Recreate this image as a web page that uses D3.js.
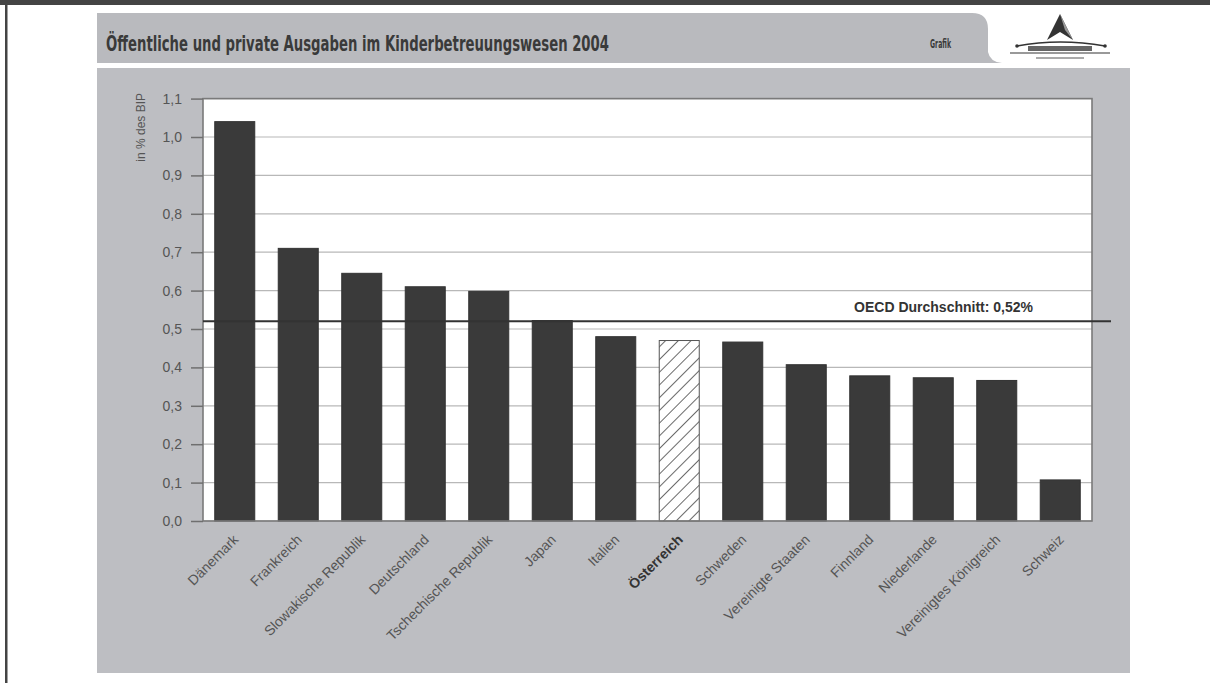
<!DOCTYPE html>
<html><head><meta charset="utf-8">
<script src="https://cdn.jsdelivr.net/npm/d3@7"></script>
<style>html,body{margin:0;padding:0;background:#fff;}svg{display:block;}</style>
</head><body>
<script>
const categories = ["Dänemark","Frankreich","Slowakische Republik","Deutschland","Tschechische Republik","Japan","Italien","Österreich","Schweden","Vereinigte Staaten","Finnland","Niederlande","Vereinigtes Königreich","Schweiz"];
const values = [1.04,0.71,0.645,0.61,0.598,0.522,0.48,0.47,0.466,0.407,0.378,0.373,0.366,0.107];
const highlight = ["Österreich"];
const yTicks = [0,0.1,0.2,0.3,0.4,0.5,0.6,0.7,0.8,0.9,1.0,1.1];
const oecdAverage = 0.52;
const oecdLabel = "OECD Durchschnitt: 0,52%";
const title = "Öffentliche und private Ausgaben im Kinderbetreuungswesen 2004";
const tabLabel = "Grafik";
const yTitle = "in % des BIP";

const W = 1210, H = 683;
const svg = d3.select("body").append("svg").attr("width", W).attr("height", H);

// outer frame
svg.append("rect").attr("x",0).attr("y",0).attr("width",W).attr("height",H).attr("fill","#fff");
svg.append("rect").attr("x",0).attr("y",0).attr("width",W).attr("height",5).attr("fill","#444");
svg.append("rect").attr("x",5).attr("y",0).attr("width",2.5).attr("height",H).attr("fill","#444");

// title tab
svg.append("path")
  .attr("d","M97,13 H972 Q988,13 988,29 V52 Q990,62 1002,63 H97 Z")
  .attr("fill","#b9babe");
svg.append("text").attr("x",106).attr("y",51)
  .attr("font-family","'DejaVu Sans Condensed','Liberation Sans Narrow',sans-serif")
  .attr("font-weight","bold").attr("font-size",21).attr("fill","#3a3a3a")
  .attr("textLength",503).attr("lengthAdjust","spacingAndGlyphs")
  .text(title);
svg.append("text").attr("x",930).attr("y",48)
  .attr("font-family","'DejaVu Sans Condensed',sans-serif")
  .attr("font-weight","bold").attr("font-size",12).attr("fill","#3a3a3a")
  .attr("textLength",21).attr("lengthAdjust","spacingAndGlyphs")
  .text(tabLabel);

// logo
const logo = svg.append("g");
logo.append("path").attr("d","M1060,14 L1047,40 L1060,32 L1073,40 Z").attr("fill","#333");
logo.append("path").attr("d","M1060,14 L1065,30 L1073,40 Z").attr("fill","#999");
logo.append("path").attr("d","M1017,46 Q1060,38 1105,46").attr("fill","none").attr("stroke","#333").attr("stroke-width",1.6);
logo.append("circle").attr("cx",1017).attr("cy",46).attr("r",1.8).attr("fill","#333");
logo.append("circle").attr("cx",1105).attr("cy",46).attr("r",1.8).attr("fill","#333");
logo.append("rect").attr("x",1028).attr("y",46).attr("width",64).attr("height",5).attr("fill","#666");
logo.append("rect").attr("x",1010).attr("y",52).attr("width",100).attr("height",2).attr("fill","#999");
logo.append("rect").attr("x",1036).attr("y",57).attr("width",48).attr("height",2).attr("fill","#aaa");

// panel
svg.append("rect").attr("x",97).attr("y",68).attr("width",1033).attr("height",605).attr("fill","#bdbec2");

// scales
const plotL = 203, plotR = 1092, plotT = 98.6, plotB = 521;
const x = d3.scaleBand().domain(categories).range([plotL, plotR]).paddingInner(0.37).paddingOuter(0.185);
const y = d3.scaleLinear().domain([0, 1.1]).range([plotB, plotT]);

// plot area
svg.append("rect").attr("x",plotL).attr("y",plotT).attr("width",plotR-plotL).attr("height",plotB-plotT).attr("fill","#fff");

// gridlines
svg.append("g").selectAll("line").data(yTicks).join("line")
  .attr("x1",plotL).attr("x2",plotR).attr("y1",d=>y(d)).attr("y2",d=>y(d))
  .attr("stroke","#b8b8b8").attr("stroke-width",1.2);

// hatch pattern
const defs = svg.append("defs");
const pat = defs.append("pattern").attr("id","hatch").attr("patternUnits","userSpaceOnUse")
  .attr("width",9).attr("height",9).attr("patternTransform","rotate(45)");
pat.append("rect").attr("width",9).attr("height",9).attr("fill","#fff");
pat.append("line").attr("x1",0).attr("y1",0).attr("x2",0).attr("y2",9).attr("stroke","#444").attr("stroke-width",1.6);

// bars
const data = categories.map((c,i)=>({c, v: values[i]}));
svg.append("g").selectAll("rect").data(data).join("rect")
  .attr("x",d=>x(d.c)).attr("width",x.bandwidth())
  .attr("y",d=>y(d.v)).attr("height",d=>y(0)-y(d.v))
  .attr("fill",d=>highlight.includes(d.c) ? "url(#hatch)" : "#3a3a3a")
  .attr("stroke",d=>highlight.includes(d.c) ? "#555" : "#333")
  .attr("stroke-width",1);

// frame
svg.append("rect").attr("x",plotL).attr("y",plotT).attr("width",plotR-plotL).attr("height",plotB-plotT)
  .attr("fill","none").attr("stroke","#7a7a7a").attr("stroke-width",1.6);

// y axis
const fmt = d => d3.format(".1f")(d).replace(".", ",");
const yAxis = d3.axisLeft(y).tickValues(yTicks).tickFormat(fmt).tickSize(12).tickPadding(9);
const ga = svg.append("g").attr("transform",`translate(${plotL},0)`).call(yAxis);
ga.select(".domain").remove();
ga.selectAll(".tick line").attr("stroke","#6f6f6f").attr("stroke-width",1.5);
ga.selectAll(".tick text").attr("font-family","Arial, 'Liberation Sans', sans-serif")
  .attr("font-size",14).attr("fill","#555");

// y title
svg.append("text").attr("transform","translate(145,93) rotate(-90)")
  .attr("text-anchor","end")
  .attr("font-family","Arial, 'Liberation Sans', sans-serif").attr("font-size",12).attr("fill","#555")
  .text(yTitle);

// x labels
svg.append("g").selectAll("text").data(categories).join("text")
  .attr("transform",d=>`translate(${x(d)+x.bandwidth()/2+1},${plotB+16}) rotate(-45)`)
  .attr("text-anchor","end").attr("dy","0.35em")
  .attr("font-family","Arial, 'Liberation Sans', sans-serif").attr("font-size",14)
  .attr("font-weight",d=>highlight.includes(d) ? "bold" : "normal")
  .attr("fill",d=>highlight.includes(d) ? "#333" : "#555")
  .text(d=>d);

// OECD average line
svg.append("line").attr("x1",plotL).attr("x2",1111).attr("y1",y(oecdAverage)).attr("y2",y(oecdAverage))
  .attr("stroke","#333").attr("stroke-width",2);
svg.append("text").attr("x",1033).attr("y",y(oecdAverage)-9)
  .attr("text-anchor","end")
  .attr("font-family","Arial, 'Liberation Sans', sans-serif").attr("font-weight","bold")
  .attr("font-size",14).attr("fill","#333")
  .text(oecdLabel);
</script>
</body></html>
